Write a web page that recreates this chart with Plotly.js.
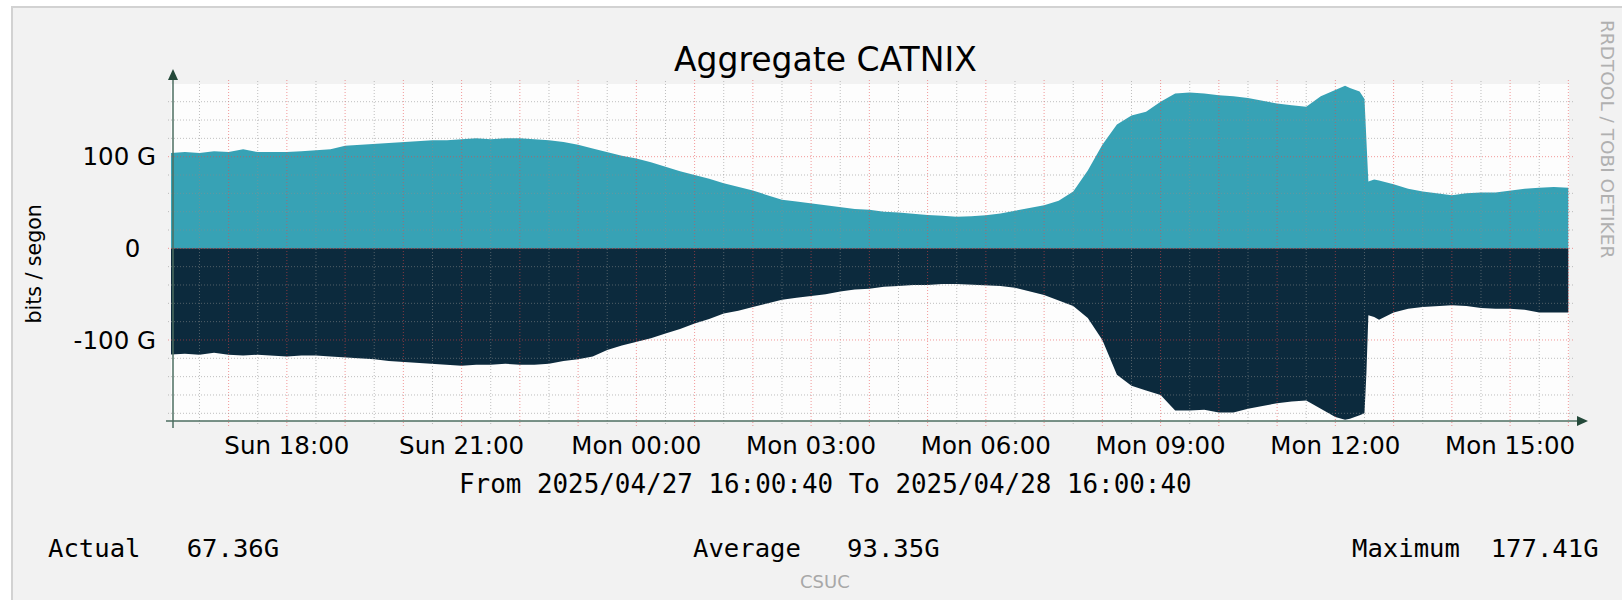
<!DOCTYPE html>
<html>
<head>
<meta charset="utf-8">
<script src="https://cdn.plot.ly/plotly-3.0.1.min.js"></script>
<style>
html,body{margin:0;padding:0;background:#fff;}
#wrap{position:relative;width:1622px;height:600px;overflow:hidden;}
#chart{position:absolute;left:0;top:0;width:1622px;height:600px;}
.strip{position:absolute;pointer-events:none;}
</style>
</head>
<body>
<div id="wrap">
  <div id="chart"></div>
  <div class="strip" style="left:0;top:0;width:1622px;height:6px;background:#fff"></div>
  <div class="strip" style="left:0;top:0;width:11px;height:600px;background:#fff"></div>
  <div class="strip" style="left:11px;top:6px;width:1611px;height:2px;background:#d2d2d2"></div>
  <div class="strip" style="left:11px;top:6px;width:2px;height:594px;background:#d2d2d2"></div>
</div>
<script>
// ---- data (Gbit/s), sample times in minutes after 2025-04-27 16:00 ----
const minutesFromStart = [
  0,15,30,45,60,75,90,105,120,135,150,165,180,195,210,225,240,255,270,285,
  300,315,330,345,360,375,390,405,420,435,450,465,480,495,510,525,540,555,570,585,
  600,615,630,645,660,675,690,705,720,735,750,765,780,795,810,825,840,855,870,885,
  900,915,930,945,960,975,990,1005,1020,1035,1050,1065,1080,1095,1110,1125,1140,1155,1170,1185,
  1200,1210,1215,1225,1230,1232,1234,1240,1245,1260,1275,1290,1305,1320,1335,1350,1365,1380,1395,1410,
  1425,1440
];
const inbound = [
  104,105,104,106,105,108,105,105,105,106,107,108,112,113,114,115,116,117,118,118,
  119,120,119,120,120,119,118,116,113,109,105,101,98,94,89,84,80,76,71,67,
  63,58,53,51,49,47,45,43,42,40,39,37.5,36.5,35.5,34.5,35,36,38,41,44,
  47,52,62,85,113,135,145,149,160,169,170,169,167,166,164,161,158,156,154.5,166,
  172.7,177.4,175,171,163,125,73,75,74,70,65,62,60,58,60,61,61,63,65,66,
  67,66
];
const outbound = [
  -116,-115,-116,-114,-116,-117,-116,-117,-118,-117,-117,-118,-119,-120,-121,-123,-124,-125,-126,-127,
  -128,-127,-127,-126,-127,-127,-126,-123,-121,-118,-111,-106,-102,-98,-93,-88,-82,-77,-71,-68,
  -64,-60,-56,-54,-52,-50,-47,-45,-44,-42,-41,-40,-40,-39,-39,-39.5,-40,-41,-43,-47,
  -51,-57,-63,-76,-100,-138,-150,-155,-160,-177,-177,-176,-179,-179,-175,-172,-169,-167,-166,-175,
  -184,-187,-186,-182,-180,-136,-73,-75,-78,-70,-66,-64,-63,-62,-63,-65,-66,-66,-67,-70,
  -70,-70
];
const tickTimes = ['2025-04-27 18:00','2025-04-27 21:00','2025-04-28 00:00','2025-04-28 03:00',
                   '2025-04-28 06:00','2025-04-28 09:00','2025-04-28 12:00','2025-04-28 15:00'];
const tickLabels = ['Sun 18:00','Sun 21:00','Mon 00:00','Mon 03:00','Mon 06:00','Mon 09:00','Mon 12:00','Mon 15:00'];
const yTickVals = [-100, 0, 100];
const yTickLabels = ['-100 G', '0\u00a0\u00a0', '100 G'];
const chartTitle = 'Aggregate CATNIX';
const yTitle = 'bits / segon';
const periodText = 'From 2025/04/27 16:00:40 To 2025/04/28 16:00:40';
const legendItems = ['Actual\u00a0\u00a0\u00a067.36G', 'Average\u00a0\u00a0\u00a093.35G', 'Maximum\u00a0\u00a0177.41G'];
const footer = 'CSUC';
const watermark = 'RRDTOOL / TOBI OETIKER';
const rangeStart = '2025-04-27 16:00:40';
const rangeEnd = '2025-04-28 16:00:40';

// ---- helpers ----
const START = Date.UTC(2025, 3, 27, 16, 0, 0);
function toStamp(ms){ return new Date(ms).toISOString().slice(0,19).replace('T',' '); }
const times = minutesFromStart.map(m => toStamp(START + m*60000));

const W = 1622, H = 600;
const L = 171, R = 1569, T = 84, B = 421;
const px = x => (x - L) / (R - L);
const py = y => (B - y) / (B - T);
const YMIN = -188.4, YMAX = 179.3;

const TEAL = '#37a2b5';
const DARK = '#0c2a3d';
const RED = 'rgba(232,70,70,0.55)';
const GRAY = 'rgba(140,140,140,0.55)';
const AXIS = '#4d6e60';
const ARROW = '#24493a';

const shapes = [];
// vertical grid every 30 minutes
for (let m = 30; m <= 1440; m += 30) {
  const t = toStamp(START + m*60000);
  const major = (m % 60 === 0);
  shapes.push({type:'line', xref:'x', yref:'paper', x0:t, x1:t, y0:py(major?426:424), y1:py(80),
    line:{color: major?RED:GRAY, width:1, dash:'1px,2px'}, layer:'above'});
}
// horizontal grid every 20 G
for (let v = -180; v <= 160; v += 20) {
  const major = (v % 100 === 0);
  shapes.push({type:'line', xref:'paper', yref:'y', x0:px(168), x1:px(1574), y0:v, y1:v,
    line:{color: major?RED:GRAY, width:1, dash:'1px,2px'}, layer:'above'});
}
// axes with arrows
shapes.push({type:'line', xref:'paper', yref:'paper', x0:px(173), x1:px(173), y0:py(428), y1:py(80),
  line:{color:AXIS, width:1.5}, layer:'above'});
shapes.push({type:'line', xref:'paper', yref:'paper', x0:px(166), x1:px(1578), y0:py(421), y1:py(421),
  line:{color:AXIS, width:1.5}, layer:'above'});
shapes.push({type:'path', xref:'paper', yref:'paper', layer:'above',
  path:`M ${px(168)} ${py(80)} L ${px(178)} ${py(80)} L ${px(173)} ${py(69)} Z`,
  fillcolor:ARROW, line:{width:0}});
shapes.push({type:'path', xref:'paper', yref:'paper', layer:'above',
  path:`M ${px(1577)} ${py(416)} L ${px(1577)} ${py(426)} L ${px(1588)} ${py(421)} Z`,
  fillcolor:ARROW, line:{width:0}});

const SANS = 'DejaVu Sans, sans-serif';
const MONO = 'DejaVu Sans Mono, monospace';
const annotations = [
  {text: chartTitle, x:px(825), y:py(59), xanchor:'center', yanchor:'middle', font:{family:SANS, size:33, color:'#000'}},
  {text: yTitle, x:px(33.5), y:py(264), xanchor:'center', yanchor:'middle', textangle:-90, font:{family:SANS, size:20.5, color:'#000'}},
  {text: periodText, x:px(825), y:py(484), xanchor:'center', yanchor:'middle', font:{family:MONO, size:25.9, color:'#000'}},
  {text: legendItems[0], x:px(47), y:py(547.5), xanchor:'left', yanchor:'middle', font:{family:MONO, size:25.6, color:'#000'}},
  {text: legendItems[1], x:px(692), y:py(547.5), xanchor:'left', yanchor:'middle', font:{family:MONO, size:25.6, color:'#000'}},
  {text: legendItems[2], x:px(1351), y:py(547.5), xanchor:'left', yanchor:'middle', font:{family:MONO, size:25.6, color:'#000'}},
  {text: footer, x:px(825), y:py(581.5), xanchor:'center', yanchor:'middle', font:{family:SANS, size:18, color:'#a8a8a8'}},
  {text: watermark, x:px(1608), y:py(139), xanchor:'center', yanchor:'middle', textangle:90, font:{family:SANS, size:18.5, color:'#b0b0b0'}}
].map(a => Object.assign({xref:'paper', yref:'paper', showarrow:false, borderpad:0}, a));

const traces = [
  {x: times, y: inbound, type:'scatter', mode:'lines', line:{width:0, color:TEAL}, fill:'tozeroy', fillcolor:TEAL, name:'in'},
  {x: times, y: outbound, type:'scatter', mode:'lines', line:{width:0, color:DARK}, fill:'tozeroy', fillcolor:DARK, name:'out'}
];

const layout = {
  width: W, height: H,
  margin: {l:L, r:W-R, t:T, b:H-B, pad:0},
  paper_bgcolor: '#f2f2f2',
  plot_bgcolor: '#fdfdfd',
  showlegend: false,
  hovermode: false,
  xaxis: {type:'date', range:[rangeStart, rangeEnd], tickmode:'array', tickvals:tickTimes, ticktext:tickLabels,
          showgrid:false, zeroline:false, showline:false, ticks:'', ticklabelstandoff:7,
          tickfont:{family:SANS, size:24.5, color:'#000'}},
  yaxis: {range:[YMIN, YMAX], tickmode:'array', tickvals:yTickVals, ticktext:yTickLabels,
          showgrid:false, zeroline:false, showline:false, ticks:'', ticklabelstandoff:14,
          tickfont:{family:SANS, size:24.5, color:'#000'}},
  shapes: shapes,
  annotations: annotations
};

Plotly.newPlot('chart', traces, layout, {staticPlot:true, displayModeBar:false});
</script>
</body>
</html>
